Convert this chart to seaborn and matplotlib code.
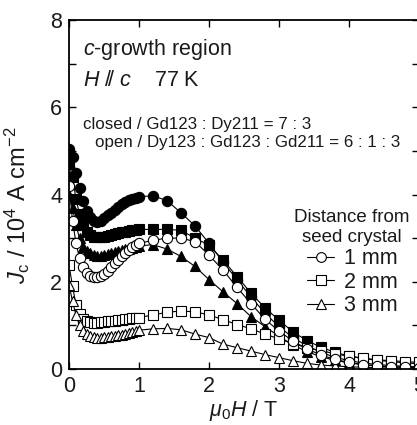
import matplotlib
matplotlib.use("Agg")
import matplotlib.pyplot as plt
import seaborn as sns
import pandas as pd
from matplotlib.lines import Line2D

sns.set_theme(style="ticks")
plt.rcParams['font.family'] = ['Liberation Sans', 'DejaVu Sans']
plt.rcParams['mathtext.fontset'] = 'custom'
plt.rcParams['mathtext.rm'] = 'Liberation Sans'
plt.rcParams['mathtext.it'] = 'Liberation Sans:italic'
plt.rcParams['mathtext.bf'] = 'Liberation Sans:bold'

# applied field (T)
field = [0.0, 0.05, 0.1, 0.15, 0.2, 0.25, 0.3, 0.35, 0.4, 0.45, 0.5,
         0.55, 0.6, 0.65, 0.7, 0.75, 0.8, 0.85, 0.9, 0.95, 1.0,
         1.2, 1.4, 1.6, 1.8, 2.0, 2.2, 2.4, 2.6, 2.8, 3.0,
         3.2, 3.4, 3.6, 3.8, 4.0, 4.2, 4.4, 4.6, 4.8, 5.0]

# closed / Gd123 : Dy211 = 7 : 3  (filled symbols)
closed_1mm = [5.05, 4.85, 4.5, 4.15, 3.85, 3.62, 3.48, 3.4, 3.38, 3.4, 3.45,
              3.52, 3.58, 3.65, 3.72, 3.78, 3.83, 3.87, 3.9, 3.93, 3.95,
              3.97, 3.86, 3.58, 3.28, 2.88, 2.45, 2.05, 1.65, 1.28, 0.97,
              0.72, 0.53, 0.38, 0.27, 0.19, 0.14, 0.1, 0.08, 0.06, 0.05]
closed_2mm = [4.7, 4.4, 3.9, 3.55, 3.3, 3.15, 3.07, 3.03, 3.02, 3.02, 3.03,
              3.05, 3.07, 3.09, 3.11, 3.13, 3.15, 3.17, 3.18, 3.19, 3.2,
              3.2, 3.2, 3.18, 3.0, 2.84, 2.5, 2.12, 1.74, 1.4, 1.12,
              0.85, 0.65, 0.5, 0.38, 0.3, 0.24, 0.2, 0.17, 0.14, 0.12]
closed_3mm = [4.0, 3.7, 3.3, 3.0, 2.8, 2.7, 2.65, 2.62, 2.6, 2.6, 2.62,
              2.64, 2.66, 2.68, 2.7, 2.72, 2.74, 2.76, 2.78, 2.8, 2.82,
              2.85, 2.75, 2.58, 2.35, 2.05, 1.77, 1.5, 1.2, 0.97, 0.75,
              0.55, 0.4, 0.28, 0.2, 0.14, 0.1, 0.07, 0.05, 0.04, 0.03]

# open / Dy123 : Gd123 : Gd211 = 6 : 1 : 3  (open symbols)
open_1mm = [4.2, 3.4, 2.89, 2.54, 2.33, 2.2, 2.13, 2.1, 2.1, 2.13, 2.18,
            2.25, 2.33, 2.42, 2.5, 2.58, 2.66, 2.73, 2.79, 2.84, 2.88,
            2.95, 3.0, 3.0, 2.92, 2.61, 2.27, 1.87, 1.5, 1.14, 0.87,
            0.64, 0.46, 0.32, 0.22, 0.15, 0.1, 0.07, 0.05, 0.04, 0.03]
open_2mm = [2.38, 1.9, 1.47, 1.25, 1.14, 1.09, 1.07, 1.06, 1.06, 1.07, 1.08,
            1.09, 1.1, 1.11, 1.12, 1.13, 1.14, 1.15, 1.16, 1.17, 1.18,
            1.24, 1.3, 1.33, 1.31, 1.24, 1.13, 1.02, 0.92, 0.8, 0.69,
            0.58, 0.49, 0.42, 0.35, 0.29, 0.25, 0.21, 0.19, 0.17, 0.15]
open_3mm = [1.93, 1.55, 1.24, 1.0, 0.88, 0.8, 0.76, 0.73, 0.72, 0.72, 0.73,
            0.74, 0.75, 0.76, 0.78, 0.79, 0.81, 0.83, 0.85, 0.87, 0.89,
            0.92, 0.93, 0.9, 0.8, 0.72, 0.57, 0.49, 0.41, 0.33, 0.26,
            0.19, 0.13, 0.09, 0.07, 0.05, 0.04, 0.03, 0.02, 0.02, 0.02]

legend_labels = ["1 mm", "2 mm", "3 mm"]

fig = plt.figure(figsize=(4.17, 4.25), dpi=100)
ax = fig.add_axes([69/417, 1 - 369/425, 350/417, 349/425])

series = [
    (closed_1mm, 'o', 'black'), (closed_2mm, 's', 'black'), (closed_3mm, '^', 'black'),
    (open_2mm, 's', 'white'), (open_3mm, '^', 'white'), (open_1mm, 'o', 'white'),
]
for vals, mk, fc in series:
    df = pd.DataFrame({'H': field, 'Jc': vals})
    sns.lineplot(data=df, x='H', y='Jc', ax=ax, color='black', lw=0.8,
                 marker=mk, markersize=7.4 if mk != '^' else 7.8,
                 markerfacecolor=fc, markeredgecolor='black', markeredgewidth=0.8,
                 sort=False, estimator=None)

tc = '#1a1a1a'
ax.set_xlim(0, 5)
ax.set_ylim(0, 8)
ax.set_xticks([0, 1, 2, 3, 4, 5])
ax.set_yticks([0, 2, 4, 6, 8])
ax.set_yticks([1, 3, 5, 7], minor=True)
ax.tick_params(which='both', direction='in', top=True, right=True, length=5,
               width=1, labelsize=15.5, pad=5, color='black', labelcolor=tc)
for s in ax.spines.values():
    s.set_linewidth(1.3)
    s.set_color('black')

ax.set_xlabel(r"$\mu_{\rm 0}H$ / T", fontsize=15.5, color=tc, labelpad=1)
ax.set_ylabel(r"$J_{\rm c}$ / 10$^{4}$ A cm$^{-2}$", fontsize=17, color=tc)
ax.yaxis.set_label_coords(-0.105, 0.47)

fig.text(83/417, 1 - 55/425, r"$\mathit{c}$-growth region", fontsize=15.5, color=tc, va='baseline')
fig.text(83/417, 1 - 86/425, r"$\mathit{H\ /\!/\ c}$    77 K", fontsize=15.5, color=tc, va='baseline')
fig.text(83/417, 1 - 129/425, "closed / Gd123 : Dy211 = 7 : 3", fontsize=12.2, color=tc, va='baseline')
fig.text(95/417, 1 - 147/425, "open / Dy123 : Gd123 : Gd211 = 6 : 1 : 3", fontsize=12.2, color=tc, va='baseline')

handles = [Line2D([], [], color='black', lw=0.8, marker=m, markersize=7,
                  markerfacecolor='white', markeredgecolor='black', markeredgewidth=0.8)
           for m in ['o', 's', '^']]
leg = ax.legend(handles, legend_labels, title="Distance from\nseed crystal",
                loc='upper right', bbox_to_anchor=(410/417, 1 - 209/425),
                bbox_transform=fig.transFigure, frameon=False, fontsize=15.5,
                title_fontsize=13.5, handlelength=1.25, handletextpad=0.45,
                labelspacing=0.12, borderpad=0, borderaxespad=0)
leg.get_title().set_multialignment('center')
for t in leg.get_texts():
    t.set_color(tc)
leg.get_title().set_color(tc)

fig.savefig("out.png", dpi=100)
